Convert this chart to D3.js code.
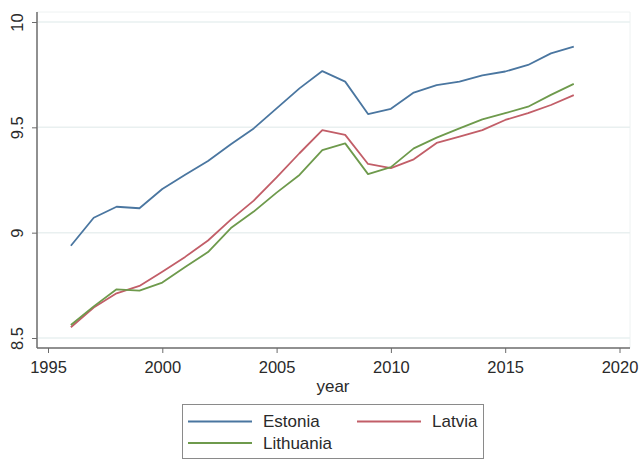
<!DOCTYPE html>
<html>
<head>
<meta charset="utf-8">
<script src="https://cdn.jsdelivr.net/npm/d3@7"></script>
<style>
  html, body { margin: 0; padding: 0; background: #fff; }
  svg { display: block; font-family: "Liberation Sans", Arial, Helvetica, sans-serif; }
</style>
</head>
<body>
<svg id="chart" width="641" height="462"></svg>
<script>
// Log GDP per capita, Baltic states
const years = [1996, 1997, 1998, 1999, 2000, 2001, 2002, 2003, 2004, 2005, 2006, 2007,
               2008, 2009, 2010, 2011, 2012, 2013, 2014, 2015, 2016, 2017, 2018];
const estonia = [8.938, 9.071, 9.123, 9.116, 9.207, 9.275, 9.340, 9.420, 9.495, 9.590, 9.685, 9.767,
                 9.717, 9.563, 9.588, 9.665, 9.700, 9.717, 9.747, 9.765, 9.796, 9.851, 9.883];
const latvia = [8.551, 8.645, 8.712, 8.747, 8.815, 8.885, 8.963, 9.062, 9.152, 9.262, 9.377, 9.487,
                9.464, 9.326, 9.306, 9.348, 9.426, 9.456, 9.487, 9.535, 9.567, 9.606, 9.653];
const lithuania = [8.562, 8.650, 8.731, 8.725, 8.763, 8.837, 8.908, 9.022, 9.100, 9.190, 9.274, 9.392,
                   9.424, 9.278, 9.311, 9.400, 9.451, 9.495, 9.538, 9.567, 9.598, 9.654, 9.706];
const seriesNames = ["Estonia", "Latvia", "Lithuania"];
const xTicks = [1995, 2000, 2005, 2010, 2015, 2020];
const yTicks = [8.5, 9, 9.5, 10];
const xTitle = "year";

const colors = { Estonia: "#4a76a0", Latvia: "#c25e68", Lithuania: "#6e9a4c" };
const seriesData = { Estonia: estonia, Latvia: latvia, Lithuania: lithuania };

const svg = d3.select("#chart");

const x = d3.scaleLinear().domain([1995, 2020]).range([48, 619.5]);
const y = d3.scaleLinear().domain([8.5, 10]).range([338, 22]);

const plotLeft = 37, plotRight = 630, plotTop = 12, plotBottom = 348;

// faint plot region border (top and right)
svg.append("path")
  .attr("d", `M${plotLeft},${plotTop}H${plotRight}V${plotBottom}`)
  .attr("fill", "none")
  .attr("stroke", "#eef2f2")
  .attr("stroke-width", 1);

// horizontal grid lines
svg.append("g")
  .selectAll("line")
  .data(yTicks)
  .join("line")
  .attr("x1", plotLeft + 1)
  .attr("x2", plotRight)
  .attr("y1", d => y(d))
  .attr("y2", d => y(d))
  .attr("stroke", "#e9f0f0")
  .attr("stroke-width", 1.5);

// y axis
const yAxis = svg.append("g")
  .attr("transform", `translate(${plotLeft},0)`)
  .call(d3.axisLeft(y).tickValues(yTicks).tickSize(5).tickPadding(8)
    .tickFormat(d3.format("")));
yAxis.select(".domain").attr("d", `M0,${plotTop}V${plotBottom}`).attr("stroke", "#6b6b6b").attr("stroke-width", 1.5);
yAxis.selectAll(".tick line").attr("stroke", "#6b6b6b");
yAxis.selectAll(".tick text")
  .attr("font-size", 16.5)
  .attr("fill", "#2a2a2a")
  .attr("text-anchor", "middle")
  .attr("dy", null)
  .attr("x", null)
  .attr("transform", "translate(-20,0) rotate(-90)")
  .attr("dominant-baseline", "central");

// x axis
const xAxis = svg.append("g")
  .attr("transform", `translate(0,${plotBottom})`)
  .call(d3.axisBottom(x).tickValues(xTicks).tickSize(5).tickPadding(8)
    .tickFormat(d3.format("")));
xAxis.select(".domain").attr("d", `M${plotLeft},0H${plotRight}`).attr("stroke", "#6b6b6b").attr("stroke-width", 1.5);
xAxis.selectAll(".tick line").attr("stroke", "#6b6b6b");
xAxis.selectAll(".tick text").attr("font-size", 16.5).attr("fill", "#2a2a2a");

// axis title
svg.append("text")
  .attr("x", 333)
  .attr("y", 392)
  .attr("text-anchor", "middle")
  .attr("font-size", 17)
  .attr("fill", "#2a2a2a")
  .text(xTitle);

// series lines
const line = d3.line()
  .x((d, i) => x(years[i]))
  .y(d => y(d));

svg.append("g")
  .selectAll("path")
  .data(seriesNames)
  .join("path")
  .attr("d", name => line(seriesData[name]))
  .attr("fill", "none")
  .attr("stroke", name => colors[name])
  .attr("stroke-width", 1.8)
  .attr("stroke-linejoin", "round");

// legend
const legend = svg.append("g");
legend.append("rect")
  .attr("x", 182.5).attr("y", 404.5)
  .attr("width", 301).attr("height", 54)
  .attr("fill", "#fff")
  .attr("stroke", "#8a8a8a")
  .attr("stroke-width", 1);

const legendPos = [
  { name: "Estonia", lx: 188, ly: 421.5 },
  { name: "Latvia", lx: 357, ly: 421.5 },
  { name: "Lithuania", lx: 188, ly: 443 }
];
legendPos.forEach(p => {
  legend.append("line")
    .attr("x1", p.lx).attr("x2", p.lx + 64)
    .attr("y1", p.ly).attr("y2", p.ly)
    .attr("stroke", colors[p.name])
    .attr("stroke-width", 1.8);
  legend.append("text")
    .attr("x", p.lx + 75)
    .attr("y", p.ly)
    .attr("dominant-baseline", "central")
    .attr("font-size", 17)
    .attr("fill", "#2a2a2a")
    .text(p.name);
});
</script>
</body>
</html>
